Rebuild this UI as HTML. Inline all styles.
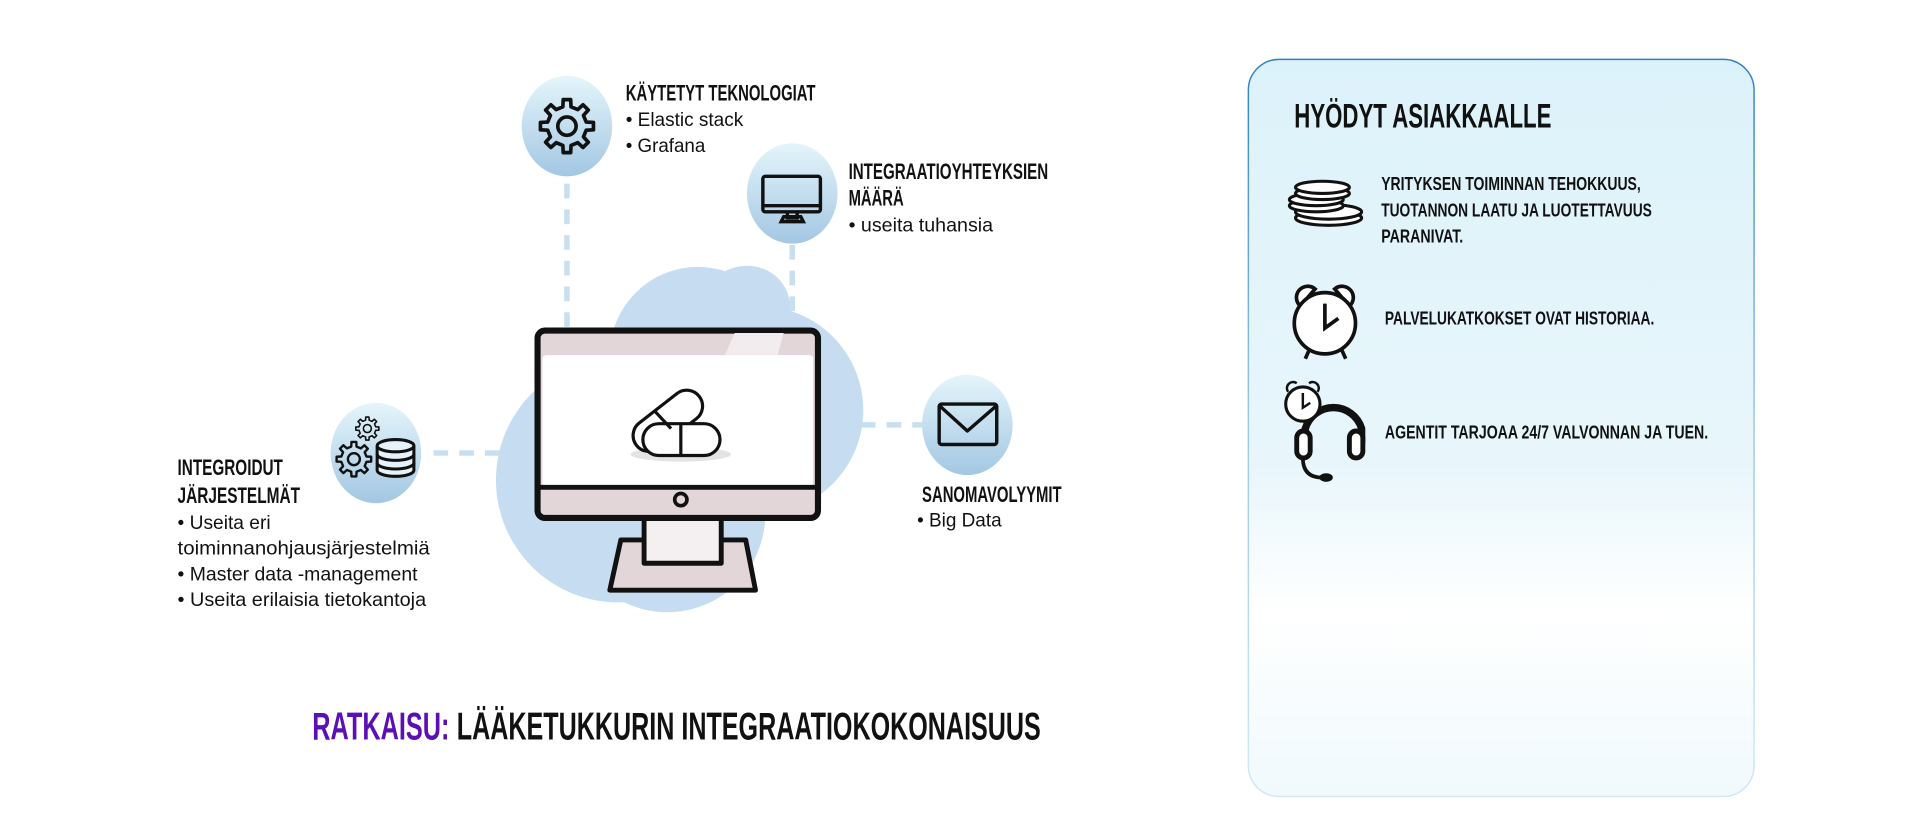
<!DOCTYPE html>
<html><head><meta charset="utf-8"><style>
html,body{margin:0;padding:0;background:#fff;}
svg{display:block}
.h{font-family:"Liberation Sans Narrow","Liberation Sans",sans-serif;font-weight:bold;fill:#111;}
.b{font-family:"Liberation Sans",sans-serif;fill:#111;}
</style></head><body>
<svg width="1920" height="839" viewBox="0 0 1568 685.2" xmlns="http://www.w3.org/2000/svg">
<defs>
<linearGradient id="cg" x1="0" y1="0" x2="0" y2="1">
<stop offset="0" stop-color="#e4f5fb"/><stop offset="1" stop-color="#a3c7e2"/></linearGradient>
<linearGradient id="card" x1="0" y1="0" x2="0" y2="1">
<stop offset="0" stop-color="#dcf2fa"/><stop offset="0.55" stop-color="#e8f6fb"/><stop offset="0.75" stop-color="#ffffff"/><stop offset="1" stop-color="#f0f9fd"/></linearGradient>
<linearGradient id="cardS" x1="0" y1="0" x2="0" y2="1">
<stop offset="0" stop-color="#2f7fc3"/><stop offset="0.5" stop-color="#9cc8e6"/><stop offset="1" stop-color="#d2e8f5"/></linearGradient>
<g id="gear">
<polygon fill="none" stroke="#111" stroke-width="2.6" stroke-linejoin="round" points="13.69,-2.91 18.82,-2.64 18.82,2.64 13.69,2.91 11.74,7.62 15.17,11.43 11.43,15.17 7.62,11.74 2.91,13.69 2.64,18.82 -2.64,18.82 -2.91,13.69 -7.62,11.74 -11.43,15.17 -15.17,11.43 -11.74,7.62 -13.69,2.91 -18.82,2.64 -18.82,-2.64 -13.69,-2.91 -11.74,-7.62 -15.17,-11.43 -11.43,-15.17 -7.62,-11.74 -2.91,-13.69 -2.64,-18.82 2.64,-18.82 2.91,-13.69 7.62,-11.74 11.43,-15.17 15.17,-11.43 11.74,-7.62"/>
<circle r="6.5" fill="none" stroke="#111" stroke-width="2.6"/>
</g>
</defs>

<!-- card -->
<rect x="1019.5" y="48.5" width="413" height="602" rx="25" fill="url(#card)" stroke="url(#cardS)" stroke-width="1.2"/>
<text class="h" x="1057" y="104" font-size="28" textLength="210" lengthAdjust="spacingAndGlyphs">HYÖDYT ASIAKKAALLE</text>

<!-- coins -->
<g fill="#fff" stroke="#111" stroke-width="2.5">
<ellipse cx="1085" cy="178" rx="27" ry="6"/><ellipse cx="1085" cy="173" rx="27" ry="6"/>
<ellipse cx="1075" cy="168" rx="22" ry="5"/><ellipse cx="1075" cy="163" rx="22" ry="5"/>
<ellipse cx="1080" cy="158" rx="22" ry="5"/><ellipse cx="1080" cy="153" rx="22" ry="5"/>
</g>
<text class="h" x="1128" y="155" font-size="15" textLength="212" lengthAdjust="spacingAndGlyphs">YRITYKSEN TOIMINNAN TEHOKKUUS,</text>
<text class="h" x="1128" y="177" font-size="15" textLength="221" lengthAdjust="spacingAndGlyphs">TUOTANNON LAATU JA LUOTETTAVUUS</text>
<text class="h" x="1128" y="198" font-size="15" textLength="67" lengthAdjust="spacingAndGlyphs">PARANIVAT.</text>

<!-- clock -->
<g stroke="#111" stroke-width="3" fill="#fff">
<path d="M1062 250 a9 9 0 0 1 12 -14 z"/><path d="M1102 250 a9 9 0 0 0 -12 -14 z"/>
<line x1="1070" y1="284" x2="1066" y2="293"/><line x1="1095" y1="284" x2="1099" y2="293"/>
<circle cx="1082" cy="264" r="25"/>
<path d="M1082 248 V268 L1093 260" fill="none"/>
</g>
<text class="h" x="1131" y="265" font-size="15" textLength="220" lengthAdjust="spacingAndGlyphs">PALVELUKATKOKSET OVAT HISTORIAA.</text>

<!-- headset -->
<g stroke="#111" fill="none">
<path d="M1066 362 V350 A24 24 0 0 1 1112 350 V362" stroke-width="6"/>
<rect x="1059" y="352" width="11" height="22" rx="5.5" fill="#fff" stroke-width="4"/>
<rect x="1102" y="352" width="11" height="22" rx="5.5" fill="#fff" stroke-width="4"/>
<path d="M1064 374 Q1064 390 1080 390" stroke-width="3"/>
<ellipse cx="1083" cy="390" rx="5" ry="3" fill="#111"/>
<circle cx="1064" cy="330" r="14" fill="#fff" stroke-width="2.5"/>
<path d="M1064 321 V333 L1070 329" stroke-width="2"/>
<path d="M1052 320 a5 5 0 0 1 7 -7" stroke-width="2"/><path d="M1076 320 a5 5 0 0 0 -7 -7" stroke-width="2"/>
</g>
<text class="h" x="1131" y="358" font-size="15" textLength="264" lengthAdjust="spacingAndGlyphs">AGENTIT TARJOAA 24/7 VALVONNAN JA TUEN.</text>

<!-- dashed connectors -->
<g stroke="#c8dff2" stroke-width="4.5" stroke-dasharray="12 9" fill="none">
<line x1="463" y1="150" x2="463" y2="270"/>
<line x1="647" y1="200" x2="647" y2="258"/>
<line x1="354" y1="370" x2="408" y2="370"/>
<line x1="703" y1="347" x2="755" y2="347"/>
</g>

<!-- cloud -->
<g fill="#c6ddf1">
<circle cx="505" cy="392" r="100"/>
<circle cx="570" cy="290" r="72"/>
<circle cx="620" cy="335" r="85"/>
<circle cx="545" cy="420" r="80"/>
<ellipse cx="610" cy="250" rx="35" ry="33"/>
</g>

<!-- monitor -->
<g stroke="#111" stroke-linejoin="round">
<path d="M507 441 H609 L617 482 H498 Z" fill="#e2d6d9" stroke-width="4"/>
<rect x="526" y="422" width="63" height="38" fill="#f4eff0" stroke-width="4"/>
<rect x="439" y="270" width="229" height="153" rx="6" fill="#e2d6d9" stroke-width="5"/>
</g>
<path d="M600 272 L640 272 L635 290 L592 290 Z" fill="#f2ecee"/>
<rect x="443" y="290" width="221" height="107" rx="3" fill="#fff"/>
<line x1="441" y1="398" x2="666" y2="398" stroke="#111" stroke-width="4"/>
<circle cx="556" cy="408" r="5" fill="none" stroke="#111" stroke-width="3"/>

<!-- pills -->
<ellipse cx="556" cy="371" rx="41" ry="6" fill="#e3e3e3"/>
<g fill="#fff" stroke="#111" stroke-width="2.6">
<rect x="513" y="331" width="65" height="26" rx="13" transform="rotate(-38 545 344)"/>
<rect x="525" y="346" width="63" height="26" rx="13"/>
<line x1="556" y1="346" x2="556" y2="372"/>
<line x1="534" y1="335" x2="548" y2="350"/>
</g>

<!-- node circles -->
<ellipse cx="463" cy="103" rx="37" ry="41" fill="url(#cg)"/>
<g transform="translate(463 103) scale(1.15)"><use href="#gear"/></g>

<ellipse cx="647" cy="158" rx="37" ry="41" fill="url(#cg)"/>
<g stroke="#111" fill="none" stroke-width="2.8">
<rect x="623" y="144" width="47" height="29" rx="2"/>
<line x1="623" y1="168" x2="670" y2="168"/>
<path d="M643 173 V178 H651 V173 M638 181 H656 L654 177 H640 Z"/>
</g>

<ellipse cx="307" cy="370" rx="37" ry="41" fill="url(#cg)"/>
<g transform="translate(289 375) scale(0.75)"><use href="#gear"/></g>
<g transform="translate(300 350) scale(0.5)"><use href="#gear"/></g>
<g stroke="#111" stroke-width="2.5" fill="#e6f2f9">
<path d="M308 364 V384 A15 5 0 0 0 338 384 V364"/>
<ellipse cx="323" cy="364" rx="15" ry="5"/>
<path d="M308 371 A15 5 0 0 0 338 371 M308 378 A15 5 0 0 0 338 378" fill="none"/>
</g>

<ellipse cx="790" cy="347" rx="37" ry="41" fill="url(#cg)"/>
<g stroke="#111" stroke-width="2.8" fill="none" stroke-linejoin="round">
<rect x="767" y="330" width="47" height="33" rx="2"/>
<path d="M768 332 L790 352 L813 332"/>
</g>

<!-- node labels -->
<text class="h" x="511" y="82" font-size="18" textLength="155" lengthAdjust="spacingAndGlyphs">KÄYTETYT TEKNOLOGIAT</text>
<text class="b" x="511" y="103" font-size="15.5" textLength="96" lengthAdjust="spacingAndGlyphs">• Elastic stack</text>
<text class="b" x="511" y="124" font-size="15.5" textLength="65" lengthAdjust="spacingAndGlyphs">• Grafana</text>

<text class="h" x="693" y="146" font-size="18" textLength="163" lengthAdjust="spacingAndGlyphs">INTEGRAATIOYHTEYKSIEN</text>
<text class="h" x="693" y="168" font-size="18" textLength="45" lengthAdjust="spacingAndGlyphs">MÄÄRÄ</text>
<text class="b" x="693" y="189" font-size="15.5" textLength="118" lengthAdjust="spacingAndGlyphs">• useita tuhansia</text>

<text class="h" x="145" y="388" font-size="18" textLength="86" lengthAdjust="spacingAndGlyphs">INTEGROIDUT</text>
<text class="h" x="145" y="411" font-size="18" textLength="100" lengthAdjust="spacingAndGlyphs">JÄRJESTELMÄT</text>
<text class="b" x="145" y="432" font-size="15.5" textLength="76" lengthAdjust="spacingAndGlyphs">• Useita eri</text>
<text class="b" x="145" y="453" font-size="15.5" textLength="206" lengthAdjust="spacingAndGlyphs">toiminnanohjausjärjestelmiä</text>
<text class="b" x="145" y="474" font-size="15.5" textLength="196" lengthAdjust="spacingAndGlyphs">• Master data -management</text>
<text class="b" x="145" y="495" font-size="15.5" textLength="203" lengthAdjust="spacingAndGlyphs">• Useita erilaisia tietokantoja</text>

<text class="h" x="753" y="410" font-size="18" textLength="114" lengthAdjust="spacingAndGlyphs">SANOMAVOLYYMIT</text>
<text class="b" x="749" y="430" font-size="15.5" textLength="69" lengthAdjust="spacingAndGlyphs">• Big Data</text>

<!-- title -->
<text class="h" x="255" y="604" font-size="32" style="fill:#5a10b4" textLength="112" lengthAdjust="spacingAndGlyphs">RATKAISU:</text>
<text class="h" x="373" y="604" font-size="32" textLength="477" lengthAdjust="spacingAndGlyphs">LÄÄKETUKKURIN INTEGRAATIOKOKONAISUUS</text>
</svg>
</body></html>
